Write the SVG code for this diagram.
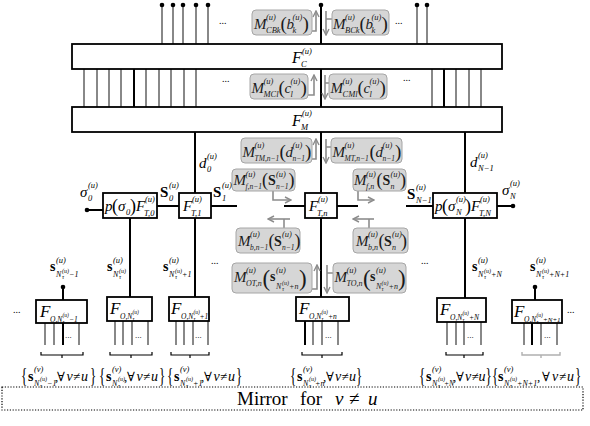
<svg xmlns="http://www.w3.org/2000/svg" width="590" height="426" viewBox="0 0 590 426">
<defs>
<style>
.bx{fill:#fff;stroke:#000;stroke-width:1.8}
.gb{fill:#d6d6d6;stroke:#a6a6a6;stroke-width:1}
.k{stroke:#000;stroke-width:2;fill:none}
.t{stroke:#3a3a3a;stroke-width:1.2;fill:none}
.ga{stroke:#8c8c8c;stroke-width:1.6;fill:none}
.br{stroke:#000;stroke-width:1.2;fill:none}
.brg{stroke:#b0b0b0;stroke-width:1.4;fill:none}
.mb{fill:none;stroke:#000;stroke-width:1.2;stroke-dasharray:1.2 1.6}
text{font-family:"Liberation Serif","DejaVu Serif",serif;fill:#000}
.gt{fill:#1a1a1a}
.i{font-style:italic}
.M{font-size:15px;font-style:italic}
.F{font-size:17px;font-style:italic}
.u{font-size:8.5px;font-style:italic}
.w{font-size:8px;font-style:italic}
.x{font-size:7.5px;font-style:italic}
.v{font-size:6px;font-style:italic}
.vv{font-size:5.5px;font-style:italic}
.P{font-size:19px}
.P18{font-size:18px}
.PL{font-size:23px}
.BR{font-size:20px}
.B{font-weight:bold;font-size:14px}
.B15{font-weight:bold;font-size:15px}
.c{font-size:13px}
.ci{font-size:14px;font-style:italic}
.d{font-size:10px}
.d9{font-size:9px}
</style>
<marker id="ah" markerUnits="userSpaceOnUse" markerWidth="8" markerHeight="8" viewBox="0 0 8 8" refX="7" refY="4" orient="auto"><path d="M1,1 L7,4 L1,7" fill="none" stroke="#8c8c8c" stroke-width="1.4"/></marker>
</defs>
<rect width="590" height="426" fill="#fff"/>

<g id="connectors">
<path class="t" d="M162,5V44M173,5V44M183,5V44M196,5V44M208,5V44M417,5V44M427,5V44"/>
<path class="k" d="M321,5V44M321,69V107M321,132V193M321,218V297"/>
<path class="t" d="M84,69V107M97,69V107M109,69V107M121,69V107M146,69V107M159,69V107M171,69V107M184,69V107M196,69V107M432,69V107M456,69V107M469,69V107M481,69V107"/>
<path class="k" d="M134,69V107M444,69V107"/>
<path class="k" d="M195,132V193M465,132V193M130,218V297M195,218V297M465,218V298M63,287V300M535,287V300"/>
<path class="k" d="M87,210H103M157,206H179M211,206H237M284,206H305M337,206H358M406,206H433M497,206H513"/>
<g fill="#000">
<circle cx="162" cy="5" r="2.3"/><circle cx="173" cy="5" r="2.3"/><circle cx="183" cy="5" r="2.3"/><circle cx="196" cy="5" r="2.3"/><circle cx="208" cy="5" r="2.3"/>
<circle cx="321" cy="5" r="2.3"/><circle cx="417" cy="5" r="2.3"/><circle cx="427" cy="5" r="2.3"/>
<circle cx="87" cy="210" r="2.3"/><circle cx="513" cy="206" r="2.3"/>
<circle cx="63" cy="287" r="2.3"/><circle cx="535" cy="287" r="2.3"/>
</g>
<path class="t" d="M45,323V345M54,323V345M79,323V345M115,321V345M123,321V345M132,321V345M148,321V345M176,321V345M184,321V345M193,321V345M208,321V345M313,321V345M322,321V345M338,321V345M447,322V345M456,322V345M464,322V345M481,322V345M524,323V345M541,323V345M557,323V345"/>
<path class="k" d="M63,323V345M305,321V345M532,323V345"/>
<path class="br" d="M41,352V355H83V352M62,355V358M110,352V355H152V352M131,355V358M171,352V355H209V352M190,355V358M302,352V355H342V352M322,355V358M446,352V355H483V352M464,355V358"/>
<path class="brg" d="M522,352V355H560V352M541,355V358"/>
<g class="ga">
<path d="M312,31H316V11" marker-end="url(#ah)"/><path d="M332,19H326M326,11V35" marker-end="url(#ah)"/>
<path d="M308,95H314V75" marker-end="url(#ah)"/><path d="M329,83H325M325,75V99" marker-end="url(#ah)"/>
<path d="M311,159H316V139" marker-end="url(#ah)"/><path d="M332,147H326M326,139V163" marker-end="url(#ah)"/>
<path d="M312,289H317V265" marker-end="url(#ah)"/><path d="M333,273H327M327,265V293" marker-end="url(#ah)"/>
<path d="M273,191V200H291" marker-end="url(#ah)"/>
<path d="M358,191V200H374" marker-end="url(#ah)"/>
<path d="M284,228V219"/><path d="M290,219H268" marker-end="url(#ah)"/>
<path d="M369,228V219"/><path d="M374,219H353" marker-end="url(#ah)"/>
</g>
</g>

<g id="FC"><rect class="bx" x="72" y="44" width="430" height="25"/>
<text><tspan class="i" style="font-size:16px" x="292" y="63">F</tspan><tspan class="u" x="302" y="54">(u)</tspan><tspan class="u" x="301" y="67">C</tspan></text></g>
<g id="FM"><rect class="bx" x="72" y="107" width="430" height="25"/>
<text><tspan class="i" style="font-size:16px" x="292" y="126">F</tspan><tspan class="u" x="302" y="116">(u)</tspan><tspan class="u" x="301" y="130">M</tspan></text></g>

<g id="MCB"><rect class="gb" x="252" y="10" width="60" height="25" rx="4"/>
<text class="gt"><tspan class="M" x="254" y="29">M</tspan><tspan class="u" x="266" y="20">(u)</tspan><tspan class="u" x="266" y="33">CBk</tspan><tspan class="P" x="280.5" y="30">(</tspan><tspan class="M" x="286.5" y="29">b</tspan><tspan class="u" x="292.5" y="20">(u)</tspan><tspan class="u" x="292.5" y="33">k</tspan><tspan class="P" x="302.5" y="30">)</tspan></text></g>
<g id="MBC"><rect class="gb" x="332" y="10" width="57" height="25" rx="4"/>
<text class="gt"><tspan class="M" x="333" y="29">M</tspan><tspan class="u" x="345" y="20">(u)</tspan><tspan class="u" x="345" y="33">BCk</tspan><tspan class="P" x="359.5" y="30">(</tspan><tspan class="M" x="365.5" y="29">b</tspan><tspan class="u" x="371.5" y="20">(u)</tspan><tspan class="u" x="371.5" y="33">k</tspan><tspan class="P" x="381.5" y="30">)</tspan></text></g>

<g id="MMC"><rect class="gb" x="250" y="74" width="58" height="25" rx="4"/>
<text class="gt"><tspan class="M" x="251.5" y="93">M</tspan><tspan class="u" x="263.5" y="84">(u)</tspan><tspan class="u" x="263.5" y="97">MCl</tspan><tspan class="P" x="278.5" y="94">(</tspan><tspan class="M" x="284.5" y="93">c</tspan><tspan class="u" x="290.5" y="84">(u)</tspan><tspan class="u" x="290.5" y="97">l</tspan><tspan class="P" x="300.5" y="94">)</tspan></text></g>
<g id="MCM"><rect class="gb" x="329" y="74" width="58" height="25" rx="4"/>
<text class="gt"><tspan class="M" x="330.5" y="93">M</tspan><tspan class="u" x="342.5" y="84">(u)</tspan><tspan class="u" x="342.5" y="97">CMl</tspan><tspan class="P" x="357.5" y="94">(</tspan><tspan class="M" x="363.5" y="93">c</tspan><tspan class="u" x="369.5" y="84">(u)</tspan><tspan class="u" x="369.5" y="97">l</tspan><tspan class="P" x="379.5" y="94">)</tspan></text></g>

<g id="MTM"><rect class="gb" x="241" y="138" width="71" height="25" rx="4"/>
<text class="gt"><tspan class="M" x="242.5" y="157">M</tspan><tspan class="u" x="254.5" y="148">(u)</tspan><tspan class="x" x="254.5" y="161">TM,n−1</tspan><tspan class="P" x="279.5" y="158">(</tspan><tspan class="M" x="285.5" y="157">d</tspan><tspan class="u" x="292.5" y="148">(u)</tspan><tspan class="x" x="292.5" y="161">n−1</tspan><tspan class="P" x="305" y="158">)</tspan></text></g>
<g id="MMT"><rect class="gb" x="331" y="138" width="71" height="25" rx="4"/>
<text class="gt"><tspan class="M" x="332.5" y="157">M</tspan><tspan class="u" x="344.5" y="148">(u)</tspan><tspan class="x" x="344.5" y="161">MT,n−1</tspan><tspan class="P" x="369.5" y="158">(</tspan><tspan class="M" x="375.5" y="157">d</tspan><tspan class="u" x="382.5" y="148">(u)</tspan><tspan class="x" x="382.5" y="161">n−1</tspan><tspan class="P" x="395" y="158">)</tspan></text></g>

<g id="Mfn1"><rect class="gb" x="232" y="169" width="63" height="22" rx="4"/>
<text class="gt"><tspan class="M" x="233.5" y="185">M</tspan><tspan class="u" x="245.5" y="177">(u)</tspan><tspan class="x" x="245.5" y="189">f,n−1</tspan><tspan class="P18" x="262" y="186">(</tspan><tspan class="B" x="268" y="185">S</tspan><tspan class="u" x="276" y="177">(u)</tspan><tspan class="x" x="276" y="189">n−1</tspan><tspan class="P18" x="288.5" y="186">)</tspan></text></g>
<g id="Mfn"><rect class="gb" x="353" y="169" width="53" height="22" rx="4"/>
<text class="gt"><tspan class="M" x="354" y="185">M</tspan><tspan class="u" x="366" y="177">(u)</tspan><tspan class="w" x="366" y="189">f,n</tspan><tspan class="P18" x="376.5" y="186">(</tspan><tspan class="B" x="382.5" y="185">S</tspan><tspan class="u" x="390.5" y="177">(u)</tspan><tspan class="w" x="390.5" y="189">n</tspan><tspan class="P18" x="400" y="186">)</tspan></text></g>

<g id="Mbn1"><rect class="gb" x="236" y="228" width="64" height="25" rx="4"/>
<text class="gt"><tspan class="M" x="238" y="246">M</tspan><tspan class="u" x="250" y="237">(u)</tspan><tspan class="x" x="250" y="250">b,n−1</tspan><tspan class="P18" x="268.5" y="247">(</tspan><tspan class="B" x="274" y="246">S</tspan><tspan class="u" x="282" y="237">(u)</tspan><tspan class="x" x="282" y="250">n−1</tspan><tspan class="P18" x="294.5" y="247">)</tspan></text></g>
<g id="Mbn"><rect class="gb" x="353" y="228" width="55" height="25" rx="4"/>
<text class="gt"><tspan class="M" x="356" y="246">M</tspan><tspan class="u" x="368" y="237">(u)</tspan><tspan class="w" x="368" y="250">b,n</tspan><tspan class="P18" x="378.5" y="247">(</tspan><tspan class="B" x="384" y="246">S</tspan><tspan class="u" x="392" y="237">(u)</tspan><tspan class="w" x="392" y="250">n</tspan><tspan class="P18" x="401" y="247">)</tspan></text></g>

<g id="MOT"><rect class="gb" x="232" y="263" width="80" height="30" rx="4"/>
<text class="gt"><tspan class="M" x="234" y="282">M</tspan><tspan class="u" x="246" y="273">(u)</tspan><tspan class="w" x="246" y="286">OT,n</tspan><tspan class="PL" x="262.5" y="286">(</tspan><tspan class="B" x="270" y="281">s</tspan><tspan class="u" x="276" y="273">(u)</tspan><tspan class="w" x="276" y="289">N</tspan><tspan class="v" x="282" y="291">τ</tspan><tspan class="v" x="282" y="285">(u)</tspan><tspan class="w" x="289" y="289">+n</tspan><tspan class="PL" x="299" y="286">)</tspan></text></g>
<g id="MTO"><rect class="gb" x="333" y="263" width="73" height="30" rx="4"/>
<text class="gt"><tspan class="M" x="334.5" y="282">M</tspan><tspan class="u" x="346.5" y="273">(u)</tspan><tspan class="w" x="346.5" y="286">TO,n</tspan><tspan class="PL" x="363" y="286">(</tspan><tspan class="B" x="370" y="281">s</tspan><tspan class="u" x="376" y="273">(u)</tspan><tspan class="w" x="376" y="289">N</tspan><tspan class="v" x="381.5" y="291">τ</tspan><tspan class="v" x="381.5" y="285">(u)</tspan><tspan class="w" x="388.5" y="289">+n</tspan><tspan class="PL" x="398" y="286">)</tspan></text></g>

<g id="FT0"><rect class="bx" x="103" y="193" width="54" height="25"/>
<text><tspan class="M" x="105" y="211">p</tspan><tspan class="P18" x="112" y="212">(</tspan><tspan class="M" x="118" y="211">σ</tspan><tspan class="u" x="126" y="215">0</tspan><tspan class="P18" x="130" y="212">)</tspan><tspan class="M" x="136" y="211">F</tspan><tspan class="u" x="145" y="202">(u)</tspan><tspan class="u" x="144" y="216">T,0</tspan></text></g>
<g id="FT1"><rect class="bx" x="179" y="193" width="32" height="25"/>
<text><tspan class="M" x="183" y="211">F</tspan><tspan class="u" x="192" y="202">(u)</tspan><tspan class="u" x="191" y="216">T,1</tspan></text></g>
<g id="FTn"><rect class="bx" x="305" y="193" width="32" height="25"/>
<text><tspan class="M" x="309" y="211">F</tspan><tspan class="u" x="318" y="202">(u)</tspan><tspan class="u" x="317" y="216">T,n</tspan></text></g>
<g id="FTN"><rect class="bx" x="433" y="193" width="64" height="25"/>
<text><tspan class="M" x="435" y="211">p</tspan><tspan class="P18" x="442" y="212">(</tspan><tspan class="M" x="448" y="211">σ</tspan><tspan class="u" x="456" y="202">(u)</tspan><tspan class="u" x="456" y="215">N</tspan><tspan class="P18" x="465" y="212">)</tspan><tspan class="M" x="471" y="211">F</tspan><tspan class="u" x="480" y="202">(u)</tspan><tspan class="u" x="479" y="216">T,N</tspan></text></g>

<g id="edge-labels">
<text><tspan class="M" x="199" y="168">d</tspan><tspan class="u" x="207" y="159">(u)</tspan><tspan class="u" x="207" y="172">0</tspan></text>
<text><tspan class="M" x="470" y="167">d</tspan><tspan class="u" x="478" y="158">(u)</tspan><tspan class="u" x="478" y="171">N−1</tspan></text>
<text><tspan class="M" x="80" y="197">σ</tspan><tspan class="u" x="88" y="188">(u)</tspan><tspan class="u" x="88" y="201">0</tspan></text>
<text><tspan class="M" x="502" y="195">σ</tspan><tspan class="u" x="510" y="186">(u)</tspan><tspan class="u" x="510" y="199">N</tspan></text>
<text><tspan class="B15" x="160" y="197">S</tspan><tspan class="u" x="169" y="188">(u)</tspan><tspan class="u" x="169" y="201">0</tspan></text>
<text><tspan class="B15" x="213" y="197">S</tspan><tspan class="u" x="222" y="188">(u)</tspan><tspan class="u" x="222" y="201">1</tspan></text>
<text><tspan class="B15" x="407" y="199">S</tspan><tspan class="u" x="416" y="190">(u)</tspan><tspan class="u" x="416" y="203">N−1</tspan></text>
<text><tspan class="B" x="50" y="271">s</tspan><tspan class="u" x="56" y="263">(u)</tspan><tspan class="w" x="56" y="277">N</tspan><tspan class="v" x="62" y="279">τ</tspan><tspan class="v" x="62" y="273">(u)</tspan><tspan class="w" x="69" y="277">−1</tspan></text>
<text><tspan class="B" x="107" y="271">s</tspan><tspan class="u" x="113" y="263">(u)</tspan><tspan class="w" x="113" y="277">N</tspan><tspan class="v" x="119" y="279">τ</tspan><tspan class="v" x="119" y="273">(u)</tspan></text>
<text><tspan class="B" x="163" y="271">s</tspan><tspan class="u" x="169" y="263">(u)</tspan><tspan class="w" x="169" y="277">N</tspan><tspan class="v" x="175" y="279">τ</tspan><tspan class="v" x="175" y="273">(u)</tspan><tspan class="w" x="182" y="277">+1</tspan></text>
<text><tspan class="B" x="472" y="271">s</tspan><tspan class="u" x="478" y="263">(u)</tspan><tspan class="w" x="478" y="277">N</tspan><tspan class="v" x="484" y="279">τ</tspan><tspan class="v" x="484" y="273">(u)</tspan><tspan class="w" x="491" y="277">+N</tspan></text>
<text><tspan class="B" x="530" y="271">s</tspan><tspan class="u" x="536" y="263">(u)</tspan><tspan class="w" x="536" y="277">N</tspan><tspan class="v" x="542" y="279">τ</tspan><tspan class="v" x="542" y="273">(u)</tspan><tspan class="w" x="549" y="277">+N+1</tspan></text>
<text class="d"><tspan x="219" y="24">...</tspan><tspan x="395" y="24">...</tspan><tspan x="222" y="82">...</tspan><tspan x="403" y="81">...</tspan><tspan x="211" y="264">...</tspan><tspan x="421" y="264">...</tspan><tspan x="13" y="313">...</tspan><tspan x="567" y="313">...</tspan></text>
<text class="d9"><tspan x="65" y="338">...</tspan><tspan x="135" y="338">...</tspan><tspan x="195" y="338">...</tspan><tspan x="325" y="338">...</tspan><tspan x="467" y="338">...</tspan><tspan x="544" y="338">...</tspan></text>
</g>

<g id="FO1"><rect class="bx" x="36" y="300" width="51" height="23"/>
<text><tspan class="F" x="40" y="317">F</tspan><tspan class="x" x="50" y="322">O,N</tspan><tspan class="vv" x="62.5" y="324">τ</tspan><tspan class="vv" x="62.5" y="317">(u)</tspan><tspan class="x" x="69" y="322">−1</tspan></text></g>
<g id="FO2"><rect class="bx" x="107" y="297" width="45" height="24"/>
<text><tspan class="F" x="110" y="314">F</tspan><tspan class="x" x="120" y="319">O,N</tspan><tspan class="vv" x="132.5" y="321">τ</tspan><tspan class="vv" x="132.5" y="314">(u)</tspan></text></g>
<g id="FO3"><rect class="bx" x="169" y="297" width="40" height="24"/>
<text><tspan class="F" x="171" y="314">F</tspan><tspan class="x" x="181" y="319">O,N</tspan><tspan class="vv" x="193.5" y="321">τ</tspan><tspan class="vv" x="193.5" y="314">(u)</tspan><tspan class="x" x="199.5" y="319">+1</tspan></text></g>
<g id="FO4"><rect class="bx" x="296" y="297" width="53" height="24"/>
<text><tspan class="F" x="299" y="314">F</tspan><tspan class="x" x="309" y="319">O,N</tspan><tspan class="vv" x="321.5" y="321">τ</tspan><tspan class="vv" x="321.5" y="314">(u)</tspan><tspan class="x" x="328" y="319">+n</tspan></text></g>
<g id="FO5"><rect class="bx" x="437" y="298" width="49" height="24"/>
<text><tspan class="F" x="440" y="315">F</tspan><tspan class="x" x="450" y="320">O,N</tspan><tspan class="vv" x="462.5" y="322">τ</tspan><tspan class="vv" x="462.5" y="315">(u)</tspan><tspan class="x" x="469" y="320">+N</tspan></text></g>
<g id="FO6"><rect class="bx" x="512" y="300" width="50" height="23"/>
<text><tspan class="F" x="514" y="317">F</tspan><tspan class="x" x="524" y="322">O,N</tspan><tspan class="vv" x="536.5" y="324">τ</tspan><tspan class="vv" x="536.5" y="317">(u)</tspan><tspan class="vv" x="543" y="322" style="font-size:7px">+N+1</tspan></text></g>

<g id="sets">
<g class="BR">
<text transform="translate(21,382) scale(0.65,1.1)">{</text><text transform="translate(90,382) scale(0.65,1.1)">}</text>
<text transform="translate(99,382) scale(0.65,1.1)">{</text><text transform="translate(159,382) scale(0.65,1.1)">}</text>
<text transform="translate(167,382) scale(0.65,1.1)">{</text><text transform="translate(236,382) scale(0.65,1.1)">}</text>
<text transform="translate(290,382) scale(0.65,1.1)">{</text><text transform="translate(356,382) scale(0.65,1.1)">}</text>
<text transform="translate(419,382) scale(0.65,1.1)">{</text><text transform="translate(485.5,382) scale(0.65,1.1)">}</text>
<text transform="translate(492,382) scale(0.65,1.1)">{</text><text transform="translate(575,382) scale(0.65,1.1)">}</text>
</g>
<text><tspan class="B" x="28" y="381">s</tspan><tspan class="u" x="34" y="372">(v)</tspan><tspan class="w" x="34" y="386">N</tspan><tspan class="v" x="40" y="388">τ</tspan><tspan class="v" x="40" y="381">(u)</tspan><tspan class="w" x="47" y="386">−1</tspan><tspan class="c" x="55" y="381">,</tspan><tspan class="c" x="57" y="381">∀</tspan><tspan class="ci" x="66.5" y="381">v</tspan><tspan class="c" x="73" y="381">≠</tspan><tspan class="ci" x="81" y="381">u</tspan></text>
<text><tspan class="B" x="106" y="381">s</tspan><tspan class="u" x="112" y="372">(v)</tspan><tspan class="w" x="112" y="386">N</tspan><tspan class="v" x="118" y="388">τ</tspan><tspan class="v" x="118" y="381">(u)</tspan><tspan class="c" x="124" y="381">,</tspan><tspan class="c" x="127" y="381">∀</tspan><tspan class="ci" x="136.5" y="381">v</tspan><tspan class="c" x="143" y="381">≠</tspan><tspan class="ci" x="151" y="381">u</tspan></text>
<text><tspan class="B" x="174" y="381">s</tspan><tspan class="u" x="180" y="372">(v)</tspan><tspan class="w" x="180" y="386">N</tspan><tspan class="v" x="186" y="388">τ</tspan><tspan class="v" x="186" y="381">(u)</tspan><tspan class="w" x="193" y="386">+1</tspan><tspan class="c" x="201" y="381">,</tspan><tspan class="c" x="204" y="381">∀</tspan><tspan class="ci" x="213.5" y="381">v</tspan><tspan class="c" x="220" y="381">≠</tspan><tspan class="ci" x="228" y="381">u</tspan></text>
<text><tspan class="B" x="297" y="381">s</tspan><tspan class="u" x="303" y="372">(v)</tspan><tspan class="w" x="303" y="386">N</tspan><tspan class="v" x="309" y="388">τ</tspan><tspan class="v" x="309" y="381">(u)</tspan><tspan class="w" x="315" y="386">+n</tspan><tspan class="c" x="323" y="381">,</tspan><tspan class="c" x="326" y="381">∀</tspan><tspan class="ci" x="335" y="381">v</tspan><tspan class="c" x="341.5" y="381">≠</tspan><tspan class="ci" x="349" y="381">u</tspan></text>
<text><tspan class="B" x="426" y="381">s</tspan><tspan class="u" x="432" y="372">(v)</tspan><tspan class="w" x="432" y="386">N</tspan><tspan class="v" x="438" y="388">τ</tspan><tspan class="v" x="438" y="381">(u)</tspan><tspan class="x" x="444" y="386">+N</tspan><tspan class="c" x="453" y="381">,</tspan><tspan class="c" x="456" y="381">∀</tspan><tspan class="ci" x="465" y="381">v</tspan><tspan class="c" x="471.5" y="381">≠</tspan><tspan class="ci" x="478.5" y="381">u</tspan></text>
<text><tspan class="B" x="498" y="381">s</tspan><tspan class="u" x="504" y="372">(v)</tspan><tspan class="w" x="504" y="386">N</tspan><tspan class="v" x="510" y="388">τ</tspan><tspan class="v" x="510" y="381">(u)</tspan><tspan class="w" x="517" y="386">+N+1</tspan><tspan class="c" x="537" y="381">,</tspan><tspan class="c" x="542" y="381">∀</tspan><tspan class="ci" x="552" y="381">v</tspan><tspan class="c" x="559" y="381">≠</tspan><tspan class="ci" x="567" y="381">u</tspan></text>
</g>

<g id="mirror"><rect class="mb" x="2" y="387" width="581" height="23"/>
<text style="font-size:19px"><tspan x="237" y="405">Mirror</tspan><tspan x="300" y="405">for</tspan><tspan class="i" x="335" y="405">v</tspan><tspan x="349" y="405">≠</tspan><tspan class="i" x="368" y="405">u</tspan></text></g>
</svg>
